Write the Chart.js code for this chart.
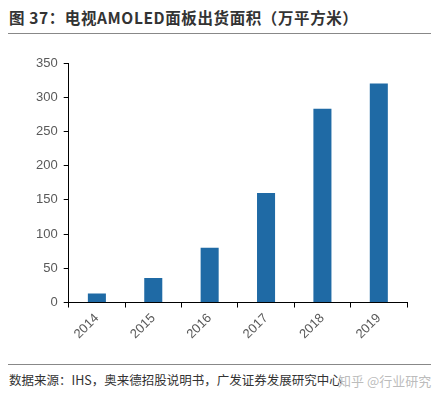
<!DOCTYPE html>
<html><head><meta charset="utf-8">
<script src="https://cdn.jsdelivr.net/npm/chart.js@4"></script>
<style>
body{margin:0;width:443px;height:402px;background:#fff;position:relative;font-family:"Noto Sans CJK SC",sans-serif;overflow:hidden}
#t{position:absolute;left:9px;top:6px;font-size:15.5px;font-weight:bold;color:#333;white-space:nowrap;letter-spacing:0.6px}
#l1{position:absolute;left:8px;right:12px;top:33px;border-top:1px solid #888}
#l2{position:absolute;left:8px;right:12px;top:364px;border-top:1px solid #888}
#f{position:absolute;left:9px;top:370px;font-size:12.5px;color:#333;white-space:nowrap}
#w{position:absolute;left:338px;top:371px;font-size:13px;color:rgba(170,170,170,0.8)}
#c{position:absolute;left:0;top:40px}
</style></head><body>
<div id="t">图 37：电视AMOLED面板出货面积（万平方米）</div>
<div id="l1"></div>
<div id="c"><canvas id="cv" width="443" height="305"></canvas></div>
<div id="l2"></div>
<div id="f">数据来源：IHS，奥来德招股说明书，广发证券发展研究中心</div>
<div id="w">知乎 @行业研究</div>
<script>
const categories=["2014","2015","2016","2017","2018","2019"];
const values=[13,36,80,160,283,320];
const yTicks=[0,50,100,150,200,250,300,350];
new Chart(document.getElementById('cv'),{type:'bar',
data:{labels:categories,datasets:[{data:values,backgroundColor:'#1f6aa5',barPercentage:0.32,categoryPercentage:1}]},
options:{responsive:false,animation:false,
layout:{padding:{left:30,right:36,top:23,bottom:0}},
plugins:{legend:{display:false},tooltip:{enabled:false}},
scales:{
x:{border:{color:'#000'},
 grid:{drawOnChartArea:false,tickLength:5,color:'#000',offset:true},
 ticks:{color:'#595959',font:{family:'Liberation Sans',size:13},maxRotation:45,minRotation:45}},
y:{min:0,max:350,afterBuildTicks:a=>{a.ticks=yTicks.map(v=>({value:v}))},
 grid:{drawOnChartArea:false,tickLength:5,color:'#000'},border:{color:'#000'},
 ticks:{color:'#595959',font:{family:'Liberation Sans',size:13},padding:6}}}}});
</script></body></html>
